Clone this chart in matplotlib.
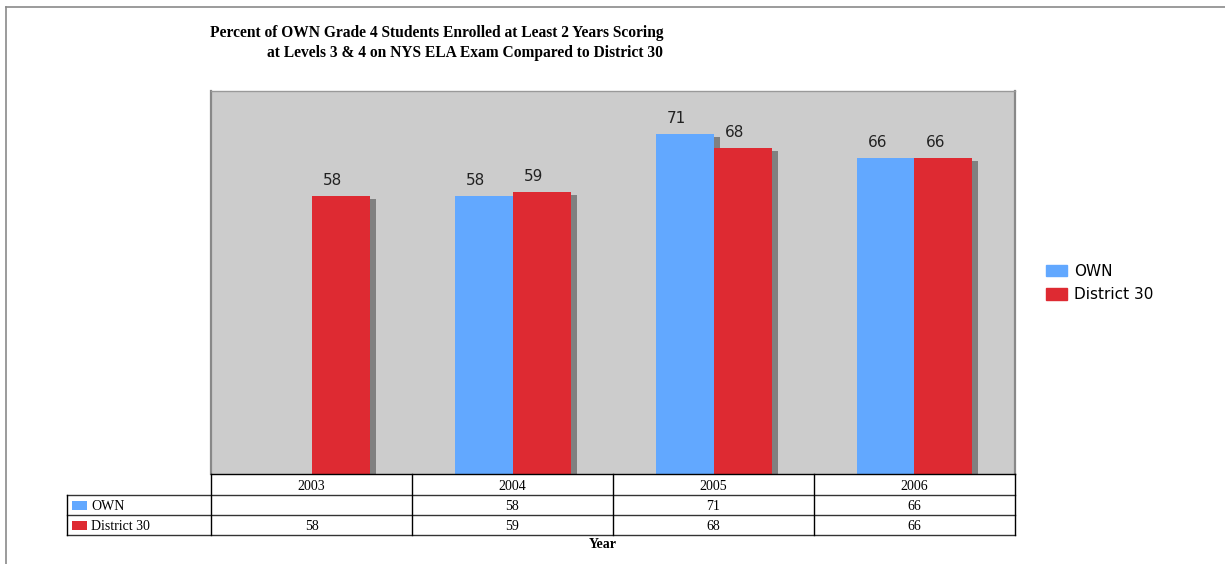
import matplotlib
matplotlib.use("Agg")
import matplotlib.pyplot as plt
from matplotlib.patches import Rectangle
from matplotlib.lines import Line2D
from matplotlib import transforms
import numpy as np

# ---- data ----
years = ["2003", "2004", "2005", "2006"]
own = [None, 58, 71, 66]
district = [58, 59, 68, 66]
series_names = ["OWN", "District 30"]
title_lines = ["Percent of OWN Grade 4 Students Enrolled at Least 2 Years Scoring",
               "at Levels 3 & 4 on NYS ELA Exam Compared to District 30"]
x_label = "Year"

# ---- style ----
W, H = 1225, 564
BLUE = "#62A8FF"
RED = "#DE2A32"
SHADOW = "#808080"
BG = "#CCCCCC"
SERIF = ["Liberation Serif", "DejaVu Serif"]
SANS = ["DejaVu Sans"]


def fx(x):
    return x / W


def fy(y):
    return 1 - y / H


fig = plt.figure(figsize=(W / 100, H / 100), dpi=100)

# outer frame of the figure
fig.add_artist(Line2D([fx(6), fx(6)], [fy(7), fy(564)], transform=fig.transFigure,
                      color="#8a8a8a", lw=1.2))
fig.add_artist(Line2D([fx(6), fx(1225)], [fy(7), fy(7)], transform=fig.transFigure,
                      color="#8a8a8a", lw=1.2))

# plot area
L, R, T, B = 211, 1015, 91, 474
ax = fig.add_axes([fx(L), fy(B), fx(R - L), (B - T) / H])
ax.set_facecolor(BG)
ax.set_xlim(-0.5, len(years) - 0.5)
ax.set_ylim(0, 80)
ax.set_xticks([])
ax.set_yticks([])
for side in ("left", "right"):
    ax.spines[side].set_color("#888888")
    ax.spines[side].set_linewidth(1.6)
ax.spines["top"].set_color("#999999")
ax.spines["top"].set_linewidth(1.0)
ax.spines["bottom"].set_visible(False)

x = np.arange(len(years))
bw = 58 / ((R - L) / len(years))
own_vals = np.array([np.nan if v is None else v for v in own], dtype=float)
dist_vals = np.array(district, dtype=float)

# drop shadows: offset right and down in pixels
shadow_tr = ax.transData + transforms.ScaledTranslation(6 / 100, -3 / 100, fig.dpi_scale_trans)
for xs, vals in ((x - bw / 2, own_vals), (x + bw / 2, dist_vals)):
    for xi, v in zip(xs, vals):
        if np.isnan(v):
            continue
        ax.add_patch(Rectangle((xi - bw / 2, 0), bw, v, facecolor=SHADOW,
                               edgecolor="none", transform=shadow_tr, zorder=1))

ax.bar(x - bw / 2, np.nan_to_num(own_vals), bw, color=BLUE, zorder=2,
       label=series_names[0])
ax.bar(x + bw / 2, dist_vals, bw, color=RED, zorder=2, label=series_names[1])

# value labels above the bars
lab_tr = ax.transData + transforms.ScaledTranslation(-8 / 100, 8 / 100, fig.dpi_scale_trans)
for xs, vals in ((x - bw / 2, own_vals), (x + bw / 2, dist_vals)):
    for xi, v in zip(xs, vals):
        if np.isnan(v):
            continue
        ax.text(xi, v, f"{v:.0f}", transform=lab_tr, ha="center", va="bottom",
                fontsize=11, family=SANS, color="#222222")

# title
fig.text(fx(663), fy(25), "\n".join(title_lines), ha="right", va="top",
         multialignment="right", fontsize=11.2, fontweight="bold", family=SERIF,
         linespacing=1.3)

# legend
handles = [Rectangle((0, 0), 1, 1, color=BLUE), Rectangle((0, 0), 1, 1, color=RED)]
fig.legend(handles, series_names, loc="center left",
           bbox_to_anchor=(fx(1046), fy(283)), frameon=False,
           prop={"family": SANS, "size": 11},
           handlelength=1.37, handleheight=0.78, handletextpad=0.45,
           labelspacing=0.55, borderpad=0, borderaxespad=0)

# data table below the plot: x in data units, y in figure fraction
tt = transforms.blended_transform_factory(ax.transData, fig.transFigure)
ft = fig.transFigure
edges = np.arange(len(years) + 1) - 0.5
row_y = [474, 495, 515, 535]
tbl_left = 67
line_kw = dict(color="black", lw=1.0, solid_capstyle="projecting")

fig.add_artist(Line2D([edges[0], edges[-1]], [fy(row_y[0])] * 2, transform=tt, **line_kw))
for yy in row_y[1:]:
    fig.add_artist(Line2D([fx(tbl_left), fx(R)], [fy(yy)] * 2, transform=ft,
                          color="#333333", lw=1.0))
for e in edges:
    fig.add_artist(Line2D([e, e], [fy(row_y[0]), fy(row_y[-1])], transform=tt, **line_kw))
fig.add_artist(Line2D([fx(tbl_left)] * 2, [fy(row_y[1]), fy(row_y[-1])], transform=ft,
                      **line_kw))

TFS = 10
DY = 1.5  # nudge cell text down a little

# header row of years
for xi, yr in zip(x, years):
    fig.text(xi, fy((row_y[0] + row_y[1]) / 2 + DY), yr, transform=tt, ha="center",
             va="center", fontsize=TFS, family=SERIF)

# series rows
rows = [(series_names[0], BLUE, own), (series_names[1], RED, district)]
for r, (name, col, vals) in enumerate(rows):
    yc = (row_y[r + 1] + row_y[r + 2]) / 2
    fig.add_artist(Rectangle((fx(72), fy(yc + 4.5)), fx(15), 9 / H, transform=ft,
                             facecolor=col, edgecolor="none"))
    fig.text(fx(91), fy(yc + DY), name, ha="left", va="center", fontsize=TFS,
             family=SERIF)
    for xi, v in zip(x, vals):
        if v is None:
            continue
        fig.text(xi, fy(yc + DY), f"{v}", transform=tt, ha="center", va="center",
                 fontsize=TFS, family=SERIF)

fig.text(fx(603), fy(545), x_label, ha="center", va="center", fontsize=TFS,
         fontweight="bold", family=SERIF)

fig.savefig("out.png", dpi=100)
